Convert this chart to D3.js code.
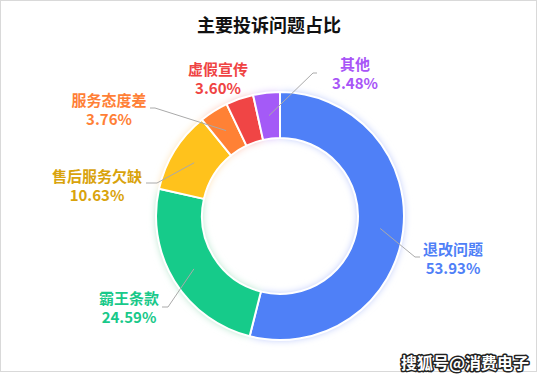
<!DOCTYPE html>
<html><head><meta charset="utf-8">
<script src="https://cdn.jsdelivr.net/npm/d3@7/dist/d3.min.js"></script>
<style>
html,body{margin:0;padding:0;background:#fff;}
text{font-family:"Noto Sans CJK SC","Noto Sans",sans-serif;}
</style></head>
<body><svg id="chart" width="538" height="380"></svg>
<script>
const title = "主要投诉问题占比";
const categories = ["退改问题","霸王条款","售后服务欠缺","服务态度差","虚假宣传","其他"];
const values = [53.93,24.59,10.63,3.76,3.60,3.48];
const sliceColors = ["#4f80f7","#19cb8a","#ffc21b","#ff8134","#f04545","#a45af7"];
const labelColors = ["#4f80f7","#19c98a","#d9a30c","#ff7f36","#ef4343","#a855f7"];
const watermark = "搜狐号@消费电子";

// label layout (offsets from pie centre): elbow, end of line, text block centre
const labelLayout = [
  {elbow:[135,41], end:[140,41], text:[173,42]},
  {elbow:[-112,91], end:[-118,91], text:[-151,91]},
  {elbow:[-123,-33], end:[-134,-33], text:[-183,-31]},
  {elbow:[-125,-108], end:[-130,-108], text:[-171,-107]},
  {elbow:null, end:null, text:[-62,-138]},
  {elbow:[33,-143], end:[37,-143], text:[75,-143]}
];

const W = 538, H = 380, cx = 280, cy = 216, rOuter = 124, rInner = 78;
const svg = d3.select("#chart");

svg.append("rect").attr("x",0.5).attr("y",0.5).attr("width",536).attr("height",371)
  .attr("fill","#fff").attr("stroke","#d9d9d9").attr("stroke-width",1);

const defs = svg.append("defs");
const f = defs.append("filter").attr("id","glow").attr("x","-30%").attr("y","-30%").attr("width","160%").attr("height","160%");
f.append("feGaussianBlur").attr("in","SourceGraphic").attr("stdDeviation",4).attr("result","b");
f.append("feComponentTransfer").attr("in","b").attr("result","b2")
  .append("feFuncA").attr("type","linear").attr("slope",0.7);
const m = f.append("feMerge");
m.append("feMergeNode").attr("in","b2");
m.append("feMergeNode").attr("in","SourceGraphic");

svg.append("text").attr("x",269).attr("y",24).attr("text-anchor","middle")
  .attr("dominant-baseline","central").attr("font-size",18).attr("font-weight","bold")
  .attr("fill","#111").text(title);

const data = categories.map((c,i)=>({name:c,value:values[i],i}));
const pie = d3.pie().value(d=>d.value).sort(null).startAngle(0).endAngle(2*Math.PI);
const arcs = pie(data);
const arc = d3.arc().innerRadius(rInner).outerRadius(rOuter);
const midArc = d3.arc().innerRadius((rInner+rOuter)/2).outerRadius((rInner+rOuter)/2);

const g = svg.append("g").attr("transform",`translate(${cx},${cy})`);
const ring = g.append("g").attr("filter","url(#glow)");
ring.selectAll("path").data(arcs).join("path")
  .attr("d",arc).attr("fill",d=>sliceColors[d.index])
  .attr("stroke","#fff").attr("stroke-width",2).attr("stroke-linejoin","round");

// label lines
arcs.forEach((d,i)=>{
  const L = labelLayout[i];
  if(L.elbow){
    const p0 = midArc.centroid(d);
    g.append("polyline").attr("points",[p0,L.elbow,L.end].map(p=>p.join(",")).join(" "))
      .attr("fill","none").attr("stroke","#aaa").attr("stroke-width",1);
  }
  const t = g.append("g").attr("transform",`translate(${L.text[0]},${L.text[1]})`);
  t.append("text").attr("y",-9.5).attr("text-anchor","middle").attr("dominant-baseline","central")
    .attr("font-size",15).attr("font-weight","bold").attr("fill",labelColors[i]).text(d.data.name);
  t.append("text").attr("y",9.5).attr("text-anchor","middle").attr("dominant-baseline","central")
    .attr("font-size",15).attr("font-weight","bold").attr("fill",labelColors[i]).text(d3.format(".2f")(d.data.value)+"%");
});

svg.append("text").attr("x",465).attr("y",362).attr("text-anchor","middle")
  .attr("dominant-baseline","central").attr("font-size",16).attr("font-weight","bold")
  .attr("fill","#fff").attr("stroke","#222").attr("stroke-width",3).attr("paint-order","stroke")
  .attr("stroke-linejoin","round").text(watermark);
</script></body></html>
